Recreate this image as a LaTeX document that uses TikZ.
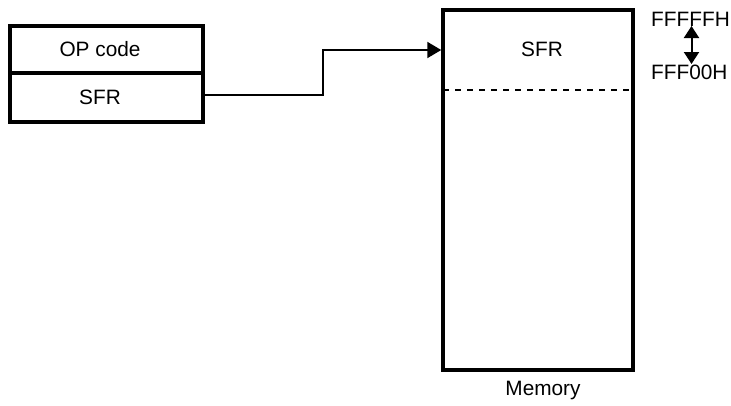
\documentclass[tikz,border=0pt]{standalone}
\usepackage{fontspec}
\setmainfont{Liberation Sans}
\usetikzlibrary{arrows.meta}
\begin{document}
\begin{tikzpicture}[x=1pt,y=-1pt,
  lbl/.style={font=\fontsize{20.8}{24}\selectfont, inner sep=0pt},
  thickbox/.style={draw, line width=3.5pt, inner sep=0pt},
  conn/.style={line width=2pt},
  tip/.style={-{Triangle[length=14pt,width=16pt]}}]
\useasboundingbox (0,0) rectangle (731,405);
% instruction box
\node[thickbox, minimum width=193pt, minimum height=47pt] (op) at (106.5,49.5) {};
\node[thickbox, minimum width=193pt, minimum height=49pt] (sfrL) at (106.5,97.5) {};
\node[lbl] (optxt) at (100,49) {OP code};
\node[lbl] (sfrtxt) at (100,97) {SFR};
% memory
\node[thickbox, minimum width=190pt, minimum height=360pt] (mem) at (538,190) {};
\node[lbl] (msfr) at (542,49) {SFR};
\coordinate (dl) at (443,90);
\coordinate (dr) at (633,90);
\draw[line width=2pt, dash pattern=on 6pt off 6pt] (dl) -- (dr);
\node[lbl] (memlbl) at (543,390) {Memory};
% connector
\coordinate (start) at (sfrL.east |- 0,95);
\coordinate (bend) at (323,50);
\draw[conn, tip] (start) -| (bend) -- (mem.west |- bend);
% addresses
\node[lbl, anchor=west] (hi) at (651,19) {FFFFFH};
\node[lbl, anchor=west] (lo) at (651,72) {FFF00H};
\coordinate (at) at (691.5,26);
\coordinate (ab) at (691.5,64);
\draw[conn, {Triangle[length=12pt,width=15pt]}-{Triangle[length=12pt,width=15pt]}] (at) -- (ab);
\end{tikzpicture}
\end{document}
